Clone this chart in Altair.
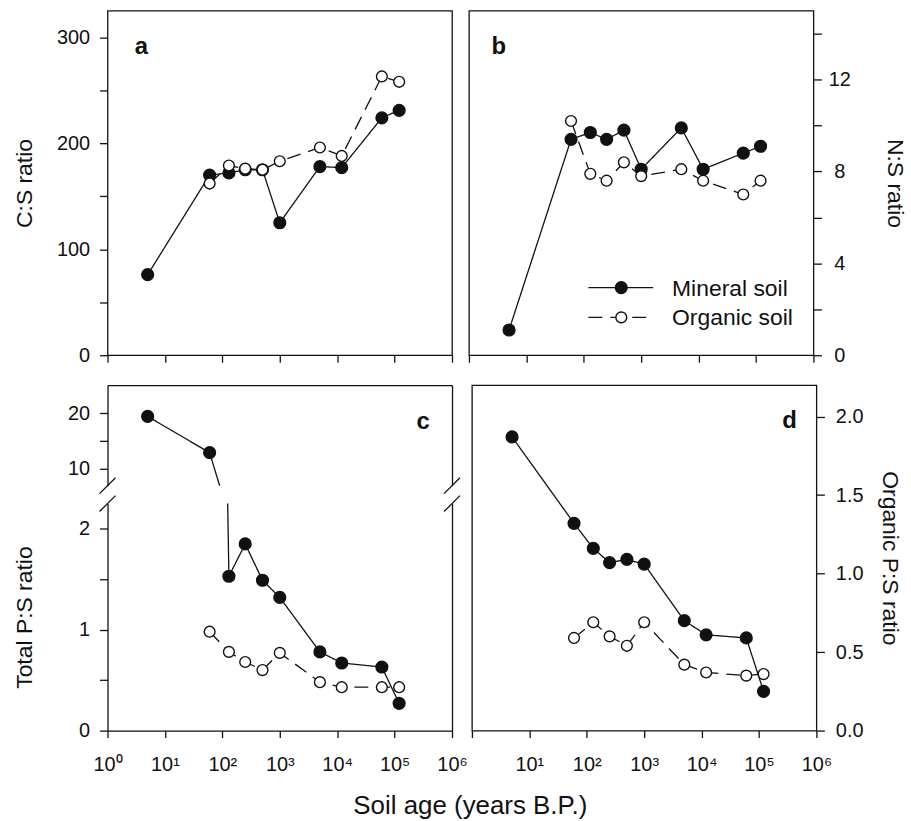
import altair as alt
import pandas as pd

SOILS = ["Mineral soil", "Organic soil"]

# Soil age of each chronosequence stage (years B.P.)
age_mineral = [5, 60, 130, 250, 500, 1000, 5000, 12000, 60000, 120000]
age_organic = [60, 130, 250, 500, 1000, 5000, 12000, 60000, 120000]

# (a) C:S ratio
cs_mineral = [76, 170, 172, 175, 175, 125, 178, 177, 224, 231]
cs_organic = [162, 179, 176, 175, 183, 196, 188, 263, 258]

# (b) N:S ratio
ns_mineral = [1.1, 9.4, 9.7, 9.4, 9.8, 8.1, 9.9, 8.1, 8.8, 9.1]
ns_organic = [10.2, 7.9, 7.6, 8.4, 7.8, 8.1, 7.6, 7.0, 7.6]

# (c) Total P:S ratio
tps_mineral = [19.4, 12.9, 1.53, 1.85, 1.49, 1.32, 0.78, 0.67, 0.63, 0.27]
tps_organic = [0.98, 0.78, 0.68, 0.60, 0.77, 0.48, 0.43, 0.43, 0.43]

# (d) Organic P:S ratio
ops_mineral = [1.87, 1.32, 1.16, 1.07, 1.09, 1.06, 0.70, 0.61, 0.59, 0.25]
ops_organic = [0.59, 0.69, 0.60, 0.54, 0.69, 0.42, 0.37, 0.35, 0.36]

X_TICKS = [1, 10, 100, 1000, 10000, 100000, 1000000]

FONT = "Liberation Sans"
INK = "#111111"
LW = 1.3
PW = 346          # panel width
PH_TOP = 346      # top-row panel height
C_UP, C_GAP, C_LOW = 101, 18, 228   # broken axis of panel c
PH_BOT = C_UP + C_GAP + C_LOW

x_scale = alt.Scale(type="log", domain=[1, 1e6], nice=False)
dash_scale = alt.Scale(domain=SOILS, range=[[1, 0], [14, 8]])
fill_scale = alt.Scale(domain=SOILS, range=[INK, "white"])
size_scale = alt.Scale(domain=SOILS, range=[140, 118])

SUP = "['\u2070','\u00b9','\u00b2','\u00b3','\u2074','\u2075','\u2076'][round(log(datum.value) / LN10)]"


def table(mineral, organic):
    rows = [{"age": a, "value": v, "soil": SOILS[0]} for a, v in zip(age_mineral, mineral)]
    rows += [{"age": a, "value": v, "soil": SOILS[1]} for a, v in zip(age_organic, organic)]
    return pd.DataFrame(rows)


def x_axis(labelled=False, skip_first=False, domain=False, orient="bottom", ticks=True):
    kw = dict(values=X_TICKS, title=None, domain=domain, orient=orient, grid=False,
              ticks=ticks, tickSize=7, tickWidth=LW, tickColor=INK,
              domainColor=INK, domainWidth=LW)
    if labelled:
        expr = "'10' + " + SUP
        if skip_first:
            expr = "datum.value < 2 ? '' : " + expr
        kw.update(labelExpr=expr, labelFont=FONT, labelFontSize=20, labelColor=INK,
                  labelPadding=17, labelFlush=False, labelOverlap=False)
    else:
        kw.update(labels=False)
    return alt.Axis(**kw)


def y_axis(values, label_expr, title, orient="left", domain=False, label_align=None,
           label_padding=10, title_padding=15):
    kw = dict(values=values, labelExpr=label_expr, orient=orient, domain=domain, grid=False,
              tickSize=8, tickWidth=LW, tickColor=INK, domainColor=INK, domainWidth=LW,
              labelFont=FONT, labelFontSize=20, labelColor=INK, labelPadding=label_padding,
              labelOverlap=False, labelFlush=False)
    if label_align:
        kw["labelAlign"] = label_align
    if title:
        kw.update(title=title, titleFont=FONT, titleFontSize=23, titleFontWeight="normal",
                  titleColor=INK, titlePadding=title_padding)
    else:
        kw["title"] = None
    return alt.Axis(**kw)


def series(df, x_ax, y_scale, y_ax):
    x = alt.X("age:Q", scale=x_scale, axis=x_ax)
    y = alt.Y("value:Q", scale=y_scale, axis=y_ax)
    base = alt.Chart(df)
    lines = base.mark_line(color=INK, strokeWidth=LW, clip=True).encode(
        x=x, y=y,
        strokeDash=alt.StrokeDash("soil:N", scale=dash_scale, legend=None),
    )
    dots = base.mark_point(shape="circle", filled=True, stroke=INK, strokeWidth=1.4,
                           opacity=1, clip=True).encode(
        x=x, y=y,
        fill=alt.Fill("soil:N", scale=fill_scale, legend=None),
        size=alt.Size("soil:N", scale=size_scale, legend=None),
    )
    return alt.layer(lines, dots)


def letter(tag, x, y):
    return alt.Chart(pd.DataFrame({"tag": [tag]})).mark_text(
        font=FONT, fontSize=24, fontWeight="bold", color=INK, align="center",
        baseline="alphabetic",
    ).encode(text="tag:N", x=alt.value(x), y=alt.value(y))


def legend_row(soil, y):
    d = alt.Chart(pd.DataFrame({"soil": [soil]}))
    line = d.mark_rule(color=INK, strokeWidth=LW).encode(
        x=alt.value(120), x2=alt.value(185), y=alt.value(y), y2=alt.value(y),
        strokeDash=alt.StrokeDash("soil:N", scale=dash_scale, legend=None),
    )
    dot = d.mark_point(shape="circle", filled=True, stroke=INK, strokeWidth=1.4, opacity=1).encode(
        x=alt.value(153), y=alt.value(y),
        fill=alt.Fill("soil:N", scale=fill_scale, legend=None),
        size=alt.Size("soil:N", scale=size_scale, legend=None),
    )
    text = d.mark_text(font=FONT, fontSize=23, color=INK, align="left", baseline="middle").encode(
        x=alt.value(204), y=alt.value(y + 1), text="soil:N",
    )
    return [line, dot, text]


def cut(x0, y0):
    # one stroke of the "//" axis-break sign, centred on (x0, y0)
    return alt.Chart(pd.DataFrame({"cut": ["/"]})).mark_rule(color=INK, strokeWidth=LW).encode(
        x=alt.value(x0 - 8), y=alt.value(y0 + 8), x2=alt.value(x0 + 8), y2=alt.value(y0 - 8))


frame = alt.ViewBackground(stroke=INK, strokeWidth=LW, fill="white")
open_view = alt.ViewBackground(stroke="transparent", fill="white")

# ---- (a) C:S ratio
a_scale = alt.Scale(domain=[0, 325], nice=False, zero=False)
panel_a = alt.layer(
    series(table(cs_mineral, cs_organic), x_axis(),
           a_scale,
           y_axis(list(range(0, 301, 50)), "datum.value % 100 == 0 ? datum.label : ''",
                  "C:S ratio", title_padding=20)),
    letter("a", 34, 43),
).properties(width=PW, height=PH_TOP, view=frame)

# ---- (b) N:S ratio
b_scale = alt.Scale(domain=[0, 15], nice=False, zero=False)
panel_b = alt.layer(
    series(table(ns_mineral, ns_organic), x_axis(),
           b_scale,
           y_axis(list(range(0, 15, 2)), "datum.value % 4 == 0 ? datum.label : ''",
                  "N:S ratio", orient="right", label_align="center", label_padding=18,
                  title_padding=32)),
    letter("b", 30, 43),
    *legend_row(SOILS[0], 278),
    *legend_row(SOILS[1], 308),
).properties(width=PW, height=PH_TOP, view=frame)

# ---- (c) Total P:S ratio, split axis
c_data = table(tps_mineral, tps_organic)
up_scale = alt.Scale(domain=[7, 25], nice=False, zero=False)
low_scale = alt.Scale(domain=[0, 2.25], nice=False, zero=False)

c_upper_border = alt.Chart(c_data).mark_point(opacity=0, clip=True).encode(
    x=alt.X("age:Q", scale=x_scale, axis=x_axis(domain=True, orient="top", ticks=False)),
    y=alt.Y("value:Q", scale=up_scale,
            axis=alt.Axis(orient="right", domain=True, ticks=False, labels=False, title=None,
                          grid=False, domainColor=INK, domainWidth=LW)),
)
c_upper = alt.layer(
    alt.layer(
        series(c_data, None, up_scale,
               y_axis([10, 15, 20], "datum.value % 10 == 0 ? format(datum.value, 'd') : ''",
                      None, domain=True)),
        letter("c", 317, 44),
        cut(0, C_UP), cut(PW, C_UP),
    ),
    c_upper_border,
).resolve_axis(x="independent", y="independent").properties(
    width=PW, height=C_UP, view=open_view)

c_lower_border = alt.Chart(c_data).mark_point(opacity=0, clip=True).encode(
    x=alt.X("age:Q", scale=x_scale, axis=None),
    y=alt.Y("value:Q", scale=low_scale,
            axis=alt.Axis(orient="right", domain=True, ticks=False, labels=False, title=None,
                          grid=False, domainColor=INK, domainWidth=LW)),
)
c_lower = alt.layer(
    alt.layer(
        series(c_data, x_axis(labelled=True, domain=True), low_scale,
               y_axis([0, 0.5, 1, 1.5, 2], "datum.value % 1 == 0 ? format(datum.value, 'd') : ''",
                      "Total P:S ratio", domain=True, title_padding=42)),
        cut(0, 0), cut(PW, 0),
    ),
    c_lower_border,
).resolve_axis(x="independent", y="independent").properties(
    width=PW, height=C_LOW, view=open_view)

panel_c = alt.vconcat(c_upper, c_lower, spacing=C_GAP, bounds="flush")

# ---- (d) Organic P:S ratio
d_scale = alt.Scale(domain=[0, 2.2], nice=False, zero=False)
panel_d = alt.layer(
    series(table(ops_mineral, ops_organic), x_axis(labelled=True, skip_first=True),
           d_scale,
           y_axis([0, 0.5, 1, 1.5, 2], "format(datum.value, '.1f')", "Organic P:S ratio",
                  orient="right", label_padding=11, title_padding=15)),
    letter("d", 319, 43),
).properties(width=PW, height=PH_BOT, view=frame)

top_row = alt.hconcat(panel_a, panel_b, spacing=17, bounds="flush")
bottom_row = alt.hconcat(panel_c, panel_d, spacing=2)

chart = alt.vconcat(top_row, bottom_row, spacing=18).properties(
    title=alt.TitleParams("Soil age (years B.P.)", orient="bottom", anchor="middle",
                          font=FONT, fontSize=26, fontWeight="normal", color=INK,
                          offset=18, dx=11),
    padding={"left": 12, "top": 8, "right": 5, "bottom": 0},
    background="white",
).configure_view(stroke="transparent")

chart.save("out.html", embed_options={"renderer": "svg", "actions": False})
